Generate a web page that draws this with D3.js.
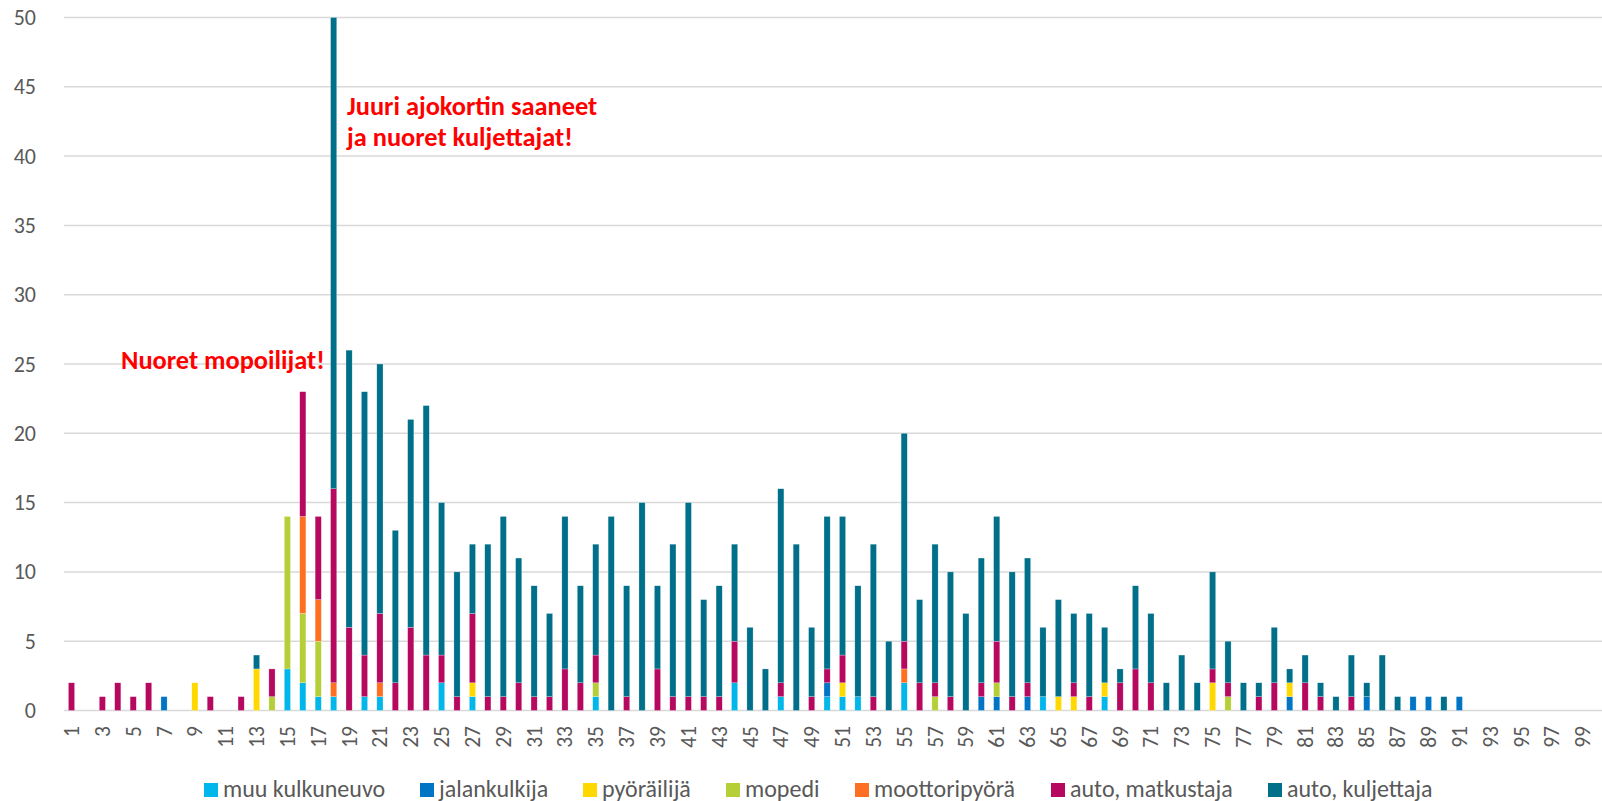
<!DOCTYPE html>
<html>
<head>
<meta charset="utf-8">
<script src="https://cdn.jsdelivr.net/npm/d3@7"></script>
<style>
  body { margin: 0; background: #fff; }
  svg { display: block; }
</style>
</head>
<body>
<div id="chart"></div>
<script>
// ages 1..100
var ages = d3.range(1, 101);
var yTicks = [0, 5, 10, 15, 20, 25, 30, 35, 40, 45, 50];

var seriesNames = ["muu kulkuneuvo", "jalankulkija", "pyöräilijä", "mopedi",
  "moottoripyörä", "auto, matkustaja", "auto, kuljettaja"];
var seriesColors = ["#00B6EA", "#0075C6", "#FFD800", "#B4CF38",
  "#FF6F21", "#B5085E", "#006F89"];

var muuKulkuneuvo = [
  0, 0, 0, 0, 0, 0, 0, 0, 0, 0,
  0, 0, 0, 0, 3, 2, 1, 1, 0, 1,
  1, 0, 0, 0, 2, 0, 1, 0, 0, 0,
  0, 0, 0, 0, 1, 0, 0, 0, 0, 0,
  0, 0, 0, 2, 0, 0, 1, 0, 0, 1,
  1, 1, 0, 0, 2, 0, 0, 0, 0, 0,
  0, 0, 0, 1, 0, 0, 0, 1, 0, 0,
  0, 0, 0, 0, 0, 0, 0, 0, 0, 0,
  0, 0, 0, 0, 0, 0, 0, 0, 0, 0,
  0, 0, 0, 0, 0, 0, 0, 0, 0, 0];
var jalankulkija = [
  0, 0, 0, 0, 0, 0, 1, 0, 0, 0,
  0, 0, 0, 0, 0, 0, 0, 0, 0, 0,
  0, 0, 0, 0, 0, 0, 0, 0, 0, 0,
  0, 0, 0, 0, 0, 0, 0, 0, 0, 0,
  0, 0, 0, 0, 0, 0, 0, 0, 0, 1,
  0, 0, 0, 0, 0, 0, 0, 0, 0, 1,
  1, 0, 1, 0, 0, 0, 0, 0, 0, 0,
  0, 0, 0, 0, 0, 0, 0, 0, 0, 1,
  0, 0, 0, 0, 1, 0, 0, 1, 1, 0,
  1, 0, 0, 0, 0, 0, 0, 0, 0, 0];
var pyorailija = [
  0, 0, 0, 0, 0, 0, 0, 0, 2, 0,
  0, 0, 3, 0, 0, 0, 0, 0, 0, 0,
  0, 0, 0, 0, 0, 0, 1, 0, 0, 0,
  0, 0, 0, 0, 0, 0, 0, 0, 0, 0,
  0, 0, 0, 0, 0, 0, 0, 0, 0, 0,
  1, 0, 0, 0, 0, 0, 0, 0, 0, 0,
  0, 0, 0, 0, 1, 1, 0, 1, 0, 0,
  0, 0, 0, 0, 2, 0, 0, 0, 0, 1,
  0, 0, 0, 0, 0, 0, 0, 0, 0, 0,
  0, 0, 0, 0, 0, 0, 0, 0, 0, 0];
var mopedi = [
  0, 0, 0, 0, 0, 0, 0, 0, 0, 0,
  0, 0, 0, 1, 11, 5, 4, 0, 0, 0,
  0, 0, 0, 0, 0, 0, 0, 0, 0, 0,
  0, 0, 0, 0, 1, 0, 0, 0, 0, 0,
  0, 0, 0, 0, 0, 0, 0, 0, 0, 0,
  0, 0, 0, 0, 0, 0, 1, 0, 0, 0,
  1, 0, 0, 0, 0, 0, 0, 0, 0, 0,
  0, 0, 0, 0, 0, 1, 0, 0, 0, 0,
  0, 0, 0, 0, 0, 0, 0, 0, 0, 0,
  0, 0, 0, 0, 0, 0, 0, 0, 0, 0];
var moottoripyora = [
  0, 0, 0, 0, 0, 0, 0, 0, 0, 0,
  0, 0, 0, 0, 0, 7, 3, 1, 0, 0,
  1, 0, 0, 0, 0, 0, 0, 0, 0, 0,
  0, 0, 0, 0, 0, 0, 0, 0, 0, 0,
  0, 0, 0, 0, 0, 0, 0, 0, 0, 0,
  0, 0, 0, 0, 1, 0, 0, 0, 0, 0,
  0, 0, 0, 0, 0, 0, 0, 0, 0, 0,
  0, 0, 0, 0, 0, 0, 0, 0, 0, 0,
  0, 0, 0, 0, 0, 0, 0, 0, 0, 0,
  0, 0, 0, 0, 0, 0, 0, 0, 0, 0];
var autoMatkustaja = [
  2, 0, 1, 2, 1, 2, 0, 0, 0, 1,
  0, 1, 0, 2, 0, 9, 6, 14, 6, 3,
  5, 2, 6, 4, 2, 1, 5, 1, 1, 2,
  1, 1, 3, 2, 2, 0, 1, 0, 3, 1,
  1, 1, 1, 3, 0, 0, 1, 0, 1, 1,
  2, 0, 1, 0, 2, 2, 1, 1, 0, 1,
  3, 1, 1, 0, 0, 1, 1, 0, 2, 3,
  2, 0, 0, 0, 1, 1, 0, 1, 2, 0,
  2, 1, 0, 1, 0, 0, 0, 0, 0, 0,
  0, 0, 0, 0, 0, 0, 0, 0, 0, 0];
var autoKuljettaja = [
  0, 0, 0, 0, 0, 0, 0, 0, 0, 0,
  0, 0, 1, 0, 0, 0, 0, 34, 20, 19,
  18, 11, 15, 18, 11, 9, 5, 11, 13, 9,
  8, 6, 11, 7, 8, 14, 8, 15, 6, 11,
  14, 7, 8, 7, 6, 3, 14, 12, 5, 11,
  10, 8, 11, 5, 15, 6, 10, 9, 7, 9,
  9, 9, 9, 5, 7, 5, 6, 4, 1, 6,
  5, 2, 4, 2, 7, 3, 2, 1, 4, 1,
  2, 1, 1, 3, 1, 4, 1, 0, 0, 1,
  0, 0, 0, 0, 0, 0, 0, 0, 0, 0];

var seriesValues = [muuKulkuneuvo, jalankulkija, pyorailija, mopedi,
  moottoripyora, autoMatkustaja, autoKuljettaja];

var width = 1602;
var height = 801;
var font = "Calibri, Carlito, 'Liberation Sans', Arial, sans-serif";

var svg = d3.select("#chart")
  .append("svg")
  .attr("width", width)
  .attr("height", height);

// table for the stack
var table = ages.map(function (a, i) {
  var row = { age: a };
  seriesNames.forEach(function (s, j) { row[s] = seriesValues[j][i]; });
  return row;
});

var stacked = d3.stack().keys(seriesNames)(table);

var x = d3.scaleBand()
  .domain(ages)
  .range([63.8, 1605.8])
  .paddingInner(0.6)
  .paddingOuter(0.3);

var y = d3.scaleLinear()
  .domain([0, 50])
  .range([710.5, 17.5]);

// gridlines
svg.append("g")
  .selectAll("line")
  .data(yTicks)
  .enter()
  .append("line")
  .attr("x1", 64)
  .attr("x2", 1602)
  .attr("y1", function (d) { return y(d); })
  .attr("y2", function (d) { return y(d); })
  .attr("stroke", "#d9d9d9")
  .attr("stroke-width", 1.5);

// y axis labels
var yAxis = svg.append("g")
  .attr("transform", "translate(36,0)")
  .call(d3.axisLeft(y).tickValues(yTicks).tickSize(0).tickPadding(0));
yAxis.select(".domain").remove();
yAxis.selectAll("text")
  .attr("font-family", font)
  .attr("font-size", 22)
  .attr("fill", "#595959");

// x axis labels, every other age
var xAxis = svg.append("g")
  .attr("transform", "translate(0,726)")
  .call(d3.axisBottom(x)
    .tickValues(ages.filter(function (a) { return a % 2 === 1; }))
    .tickSize(0).tickPadding(0));
xAxis.select(".domain").remove();
xAxis.selectAll("text")
  .attr("font-family", font)
  .attr("font-size", 21.5)
  .attr("fill", "#595959")
  .attr("text-anchor", "end")
  .attr("transform", "rotate(-90)")
  .attr("x", 0)
  .attr("y", 0)
  .attr("dy", "0.35em");

// bars
svg.append("g")
  .selectAll("g")
  .data(stacked)
  .enter()
  .append("g")
  .attr("fill", function (d, i) { return seriesColors[i]; })
  .selectAll("rect")
  .data(function (d) { return d.filter(function (p) { return p[1] > p[0]; }); })
  .enter()
  .append("rect")
  .attr("x", function (d) { return x(d.data.age); })
  .attr("width", x.bandwidth())
  .attr("y", function (d) { return y(d[1]); })
  .attr("height", function (d) { return y(d[0]) - y(d[1]); })
  .attr("stroke", "#ffffff")
  .attr("stroke-opacity", 0.5)
  .attr("stroke-width", 0.5);

// annotations
var notes = svg.append("g")
  .attr("font-family", font)
  .attr("font-weight", "bold")
  .attr("font-size", 26.4)
  .attr("fill", "#ff0000");
notes.append("text").attr("x", 347).attr("y", 115).text("Juuri ajokortin saaneet");
notes.append("text").attr("x", 347).attr("y", 146).text("ja nuoret kuljettajat!");
notes.append("text").attr("x", 121).attr("y", 369).text("Nuoret mopoilijat!");

// legend
var legendX = [204, 420, 583, 726, 855, 1051, 1268];
var legend = svg.append("g")
  .selectAll("g")
  .data(seriesNames)
  .enter()
  .append("g")
  .attr("transform", function (d, i) { return "translate(" + legendX[i] + ",783)"; });
legend.append("rect")
  .attr("width", 14)
  .attr("height", 14)
  .attr("fill", function (d, i) { return seriesColors[i]; });
legend.append("text")
  .attr("x", 19)
  .attr("y", 13.5)
  .attr("font-family", font)
  .attr("font-size", 24)
  .attr("fill", "#595959")
  .text(function (d) { return d; });
</script>
</body>
</html>
